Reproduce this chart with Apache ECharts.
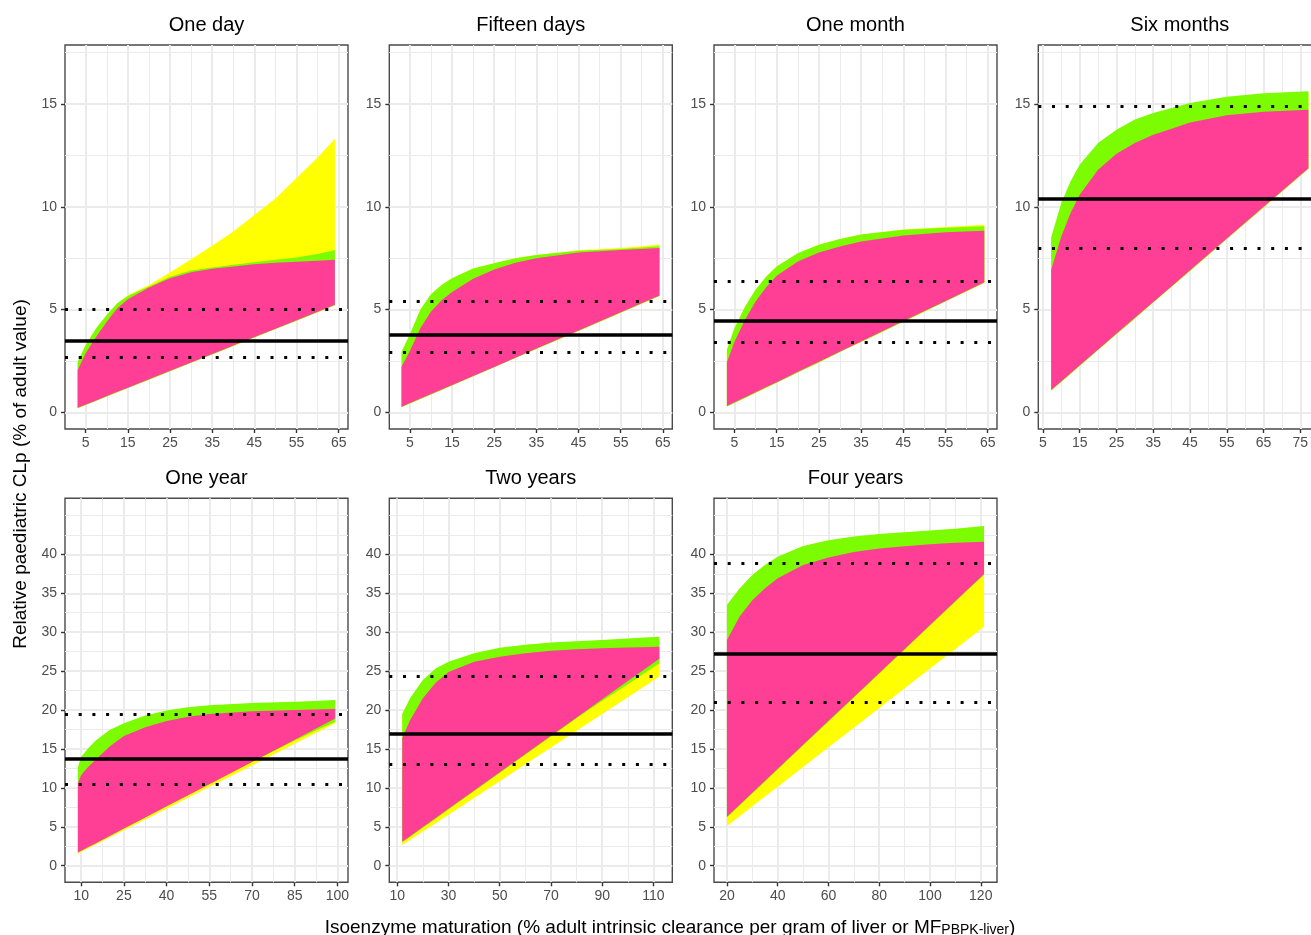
<!DOCTYPE html>
<html>
<head>
<meta charset="utf-8">
<script src="https://cdn.jsdelivr.net/npm/echarts@6/dist/echarts.min.js"></script>
<style>
  html, body { margin: 0; padding: 0; background: #fff; }
  #chart { width: 1311px; height: 935px; }
</style>
</head>
<body>
<div id="chart"></div>
<script>
// ---- data, one block per panel ----
// each panel: x positions, lower/upper edge of the pink, green and yellow bands,
// and the reference lines [solid, lower dotted, upper dotted]

// One day
const dayX = [3.1, 5, 7.5, 10, 12.5, 15, 20, 25, 30, 35, 40, 45, 50, 55, 60, 64.1]
const dayPinkLow = [0.22, 0.38, 0.58, 0.79, 1.0, 1.2, 1.61, 2.02, 2.43, 2.84, 3.25, 3.66, 4.07, 4.48, 4.89, 5.23]
const dayPinkHigh = [2.06, 2.87, 3.68, 4.41, 5.07, 5.5, 6.07, 6.52, 6.82, 6.98, 7.1, 7.2, 7.28, 7.33, 7.38, 7.42]
const dayGreenLow = [0.2, 0.36, 0.56, 0.77, 0.98, 1.18, 1.59, 2.0, 2.41, 2.82, 3.23, 3.64, 4.05, 4.46, 4.87, 5.21]
const dayGreenHigh = [2.45, 3.28, 4.09, 4.74, 5.31, 5.66, 6.12, 6.6, 6.9, 7.05, 7.18, 7.3, 7.42, 7.53, 7.7, 7.9]
const dayYellowLow = [0.2, 0.36, 0.56, 0.77, 0.98, 1.18, 1.59, 2.0, 2.41, 2.82, 3.23, 3.64, 4.05, 4.46, 4.87, 5.21]
const dayYellowHigh = [2.45, 3.28, 4.09, 4.74, 5.31, 5.7, 6.2, 6.8, 7.45, 8.1, 8.8, 9.6, 10.4, 11.4, 12.4, 13.31]
const dayLines = [3.5, 2.68, 5.0]

// Fifteen days
const fifteenX = [3.0, 5, 7.5, 10, 12.5, 15, 20, 25, 30, 35, 45, 55, 64.2]
const fifteenPinkLow = [0.27, 0.45, 0.67, 0.89, 1.11, 1.33, 1.77, 2.21, 2.66, 3.1, 3.98, 4.87, 5.68]
const fifteenPinkHigh = [2.22, 3.0, 4.1, 4.9, 5.45, 5.85, 6.5, 6.95, 7.28, 7.5, 7.78, 7.9, 7.99]
const fifteenGreenLow = [0.25, 0.43, 0.65, 0.87, 1.09, 1.31, 1.75, 2.19, 2.64, 3.08, 3.96, 4.85, 5.66]
const fifteenGreenHigh = [2.95, 3.8, 5.0, 5.75, 6.2, 6.52, 7.0, 7.25, 7.5, 7.66, 7.86, 7.95, 8.08]
const fifteenYellowLow = [0.25, 0.43, 0.65, 0.87, 1.09, 1.31, 1.75, 2.19, 2.64, 3.08, 3.96, 4.85, 5.66]
const fifteenYellowHigh = [2.95, 3.8, 5.0, 5.75, 6.2, 6.52, 7.0, 7.25, 7.5, 7.66, 7.88, 7.99, 8.15]
const fifteenLines = [3.77, 2.9, 5.39]

// One month
const monthX = [3.2, 5, 7.5, 10, 12.5, 15, 20, 25, 30, 35, 45, 55, 64.2]
const monthPinkLow = [0.31, 0.49, 0.73, 0.98, 1.23, 1.47, 1.97, 2.46, 2.96, 3.45, 4.44, 5.42, 6.33]
const monthPinkHigh = [2.42, 3.44, 4.5, 5.39, 6.09, 6.64, 7.34, 7.78, 8.07, 8.31, 8.6, 8.76, 8.84]
const monthGreenLow = [0.28, 0.46, 0.7, 0.95, 1.2, 1.44, 1.94, 2.43, 2.93, 3.42, 4.41, 5.39, 6.3]
const monthGreenHigh = [3.05, 4.09, 5.14, 5.96, 6.6, 7.09, 7.74, 8.15, 8.43, 8.65, 8.88, 8.98, 9.05]
const monthYellowLow = [0.28, 0.46, 0.7, 0.95, 1.2, 1.44, 1.94, 2.43, 2.93, 3.42, 4.41, 5.39, 6.3]
const monthYellowHigh = [3.05, 4.09, 5.14, 5.96, 6.6, 7.09, 7.74, 8.15, 8.43, 8.65, 8.9, 9.02, 9.13]
const monthLines = [4.46, 3.42, 6.4]

// Six months
const sixX = [7.25, 10, 12.5, 15, 20, 25, 30, 35, 40, 45, 55, 65, 77.2]
const sixPinkLow = [1.09, 1.51, 1.9, 2.29, 3.06, 3.83, 4.6, 5.37, 6.14, 6.91, 8.46, 10.0, 11.88]
const sixPinkHigh = [6.93, 8.55, 9.69, 10.58, 11.8, 12.58, 13.1, 13.5, 13.8, 14.1, 14.45, 14.62, 14.72]
const sixGreenLow = [1.06, 1.48, 1.87, 2.26, 3.03, 3.8, 4.57, 5.34, 6.11, 6.88, 8.43, 9.97, 11.85]
const sixGreenHigh = [8.5, 10.18, 11.23, 12.05, 13.1, 13.75, 14.24, 14.56, 14.81, 15.05, 15.35, 15.52, 15.62]
const sixYellowLow = [1.06, 1.48, 1.87, 2.26, 3.03, 3.8, 4.57, 5.34, 6.11, 6.88, 8.43, 9.97, 11.85]
const sixYellowHigh = [8.45, 10.13, 11.18, 12.0, 13.05, 13.7, 14.2, 14.52, 14.77, 15.0, 15.3, 15.47, 15.57]
const sixLines = [10.4, 8.0, 14.88]

// One year
const yearX = [8.84, 10, 12.5, 15, 20, 25, 32.5, 40, 47.5, 55, 70, 85, 92, 99.2]
const yearPinkLow = [1.7, 1.92, 2.4, 2.87, 3.82, 4.77, 6.2, 7.63, 9.05, 10.48, 13.34, 16.19, 17.52, 18.9]
const yearPinkHigh = [10.58, 11.66, 12.7, 13.58, 15.3, 16.66, 17.8, 18.6, 19.15, 19.5, 19.85, 20.0, 20.08, 20.13]
const yearGreenLow = [1.68, 1.9, 2.38, 2.85, 3.8, 4.75, 6.18, 7.61, 9.03, 10.46, 13.32, 16.1, 17.3, 18.5]
const yearGreenHigh = [12.6, 14.0, 15.08, 16.06, 17.44, 18.3, 19.3, 19.95, 20.35, 20.6, 20.9, 21.05, 21.15, 21.29]
const yearYellowLow = [1.55, 1.77, 2.23, 2.69, 3.62, 4.55, 5.94, 7.33, 8.72, 10.11, 12.89, 15.67, 16.97, 18.3]
const yearYellowHigh = [12.55, 13.95, 15.03, 16.0, 17.4, 18.25, 19.25, 19.9, 20.3, 20.55, 20.85, 21.0, 21.1, 21.24]
const yearLines = [13.7, 10.5, 19.5]

// Two years
const twoX = [11.95, 15, 20, 25, 30, 40, 50, 60, 70, 80, 90, 100, 105, 112.3]
const twoPinkLow = [3.08, 3.8, 4.97, 6.14, 7.31, 9.66, 12.0, 14.34, 16.69, 19.03, 21.37, 23.72, 24.9, 26.6]
const twoPinkHigh = [16.37, 18.7, 21.5, 23.5, 24.9, 26.2, 26.86, 27.3, 27.6, 27.8, 27.93, 28.03, 28.08, 28.14]
const twoGreenLow = [3.0, 3.7, 4.87, 6.04, 7.21, 9.56, 11.9, 14.24, 16.59, 18.93, 21.2, 23.3, 24.4, 26.0]
const twoGreenHigh = [19.49, 21.5, 23.86, 25.35, 26.2, 27.3, 28.0, 28.4, 28.66, 28.85, 29.0, 29.2, 29.3, 29.43]
const twoYellowLow = [2.66, 3.32, 4.4, 5.47, 6.55, 8.71, 10.86, 13.02, 15.18, 17.33, 19.49, 21.64, 22.72, 24.3]
const twoYellowHigh = [19.44, 21.45, 23.8, 25.3, 26.15, 27.25, 27.95, 28.35, 28.6, 28.8, 28.95, 29.15, 29.25, 29.38]
const twoLines = [17.0, 13.07, 24.3]

// Four years
const fourX = [20, 25, 30, 35, 40, 50, 60, 70, 80, 90, 100, 110, 121.3]
const fourPinkLow = [6.3, 7.84, 9.38, 10.92, 12.46, 15.53, 18.61, 21.69, 24.77, 27.85, 30.92, 34.0, 37.48]
const fourPinkHigh = [29.0, 32.0, 34.1, 35.64, 36.92, 38.64, 39.6, 40.3, 40.75, 41.05, 41.3, 41.48, 41.63]
const fourGreenLow = [6.2, 7.74, 9.28, 10.82, 12.36, 15.43, 18.51, 21.59, 24.67, 27.75, 30.82, 33.9, 37.38]
const fourGreenHigh = [33.5, 35.6, 37.35, 38.64, 39.7, 41.08, 41.8, 42.3, 42.6, 42.85, 43.05, 43.3, 43.65]
const fourYellowLow = [5.1, 6.36, 7.63, 8.89, 10.16, 12.68, 15.21, 17.74, 20.27, 22.8, 25.32, 27.85, 30.71]
const fourYellowHigh = [33.45, 35.55, 37.3, 38.6, 39.65, 41.03, 41.75, 42.25, 42.55, 42.8, 43.0, 43.25, 43.6]
const fourLines = [27.25, 20.94, 38.9]

// ---- tick labels ----
const topYTicks = [0, 5, 10, 15]
const topYMinor = [2.5, 7.5, 12.5, 17.5]
const bottomYTicks = [0, 5, 10, 15, 20, 25, 30, 35, 40]
const bottomYMinor = [2.5, 7.5, 12.5, 17.5, 22.5, 27.5, 32.5, 37.5, 42.5, 45]
const earlyXTicks = [5, 15, 25, 35, 45, 55, 65]
const earlyXMinor = [10, 20, 30, 40, 50, 60]
const sixXTicks = [5, 15, 25, 35, 45, 55, 65, 75]
const sixXMinor = [10, 20, 30, 40, 50, 60, 70, 80]
const yearXTicks = [10, 25, 40, 55, 70, 85, 100]
const yearXMinor = [17.5, 32.5, 47.5, 62.5, 77.5, 92.5]
const twoXTicks = [10, 30, 50, 70, 90, 110]
const twoXMinor = [20, 40, 60, 80, 100]
const fourXTicks = [20, 40, 60, 80, 100, 120]
const fourXMinor = [30, 50, 70, 90, 110]

const panels = [
  { title: 'One day', x: dayX, pink: [dayPinkLow, dayPinkHigh], green: [dayGreenLow, dayGreenHigh], yellow: [dayYellowLow, dayYellowHigh], lines: dayLines,
    xRange: [0.1, 67.2], xTicks: earlyXTicks, xMinor: earlyXMinor, row: 0, col: 0 },
  { title: 'Fifteen days', x: fifteenX, pink: [fifteenPinkLow, fifteenPinkHigh], green: [fifteenGreenLow, fifteenGreenHigh], yellow: [fifteenYellowLow, fifteenYellowHigh], lines: fifteenLines,
    xRange: [0.1, 67.25], xTicks: earlyXTicks, xMinor: earlyXMinor, row: 0, col: 1 },
  { title: 'One month', x: monthX, pink: [monthPinkLow, monthPinkHigh], green: [monthGreenLow, monthGreenHigh], yellow: [monthYellowLow, monthYellowHigh], lines: monthLines,
    xRange: [0.15, 67.2], xTicks: earlyXTicks, xMinor: earlyXMinor, row: 0, col: 2 },
  { title: 'Six months', x: sixX, pink: [sixPinkLow, sixPinkHigh], green: [sixGreenLow, sixGreenHigh], yellow: [sixYellowLow, sixYellowHigh], lines: sixLines,
    xRange: [3.75, 80.7], xTicks: sixXTicks, xMinor: sixXMinor, row: 0, col: 3 },
  { title: 'One year', x: yearX, pink: [yearPinkLow, yearPinkHigh], green: [yearGreenLow, yearGreenHigh], yellow: [yearYellowLow, yearYellowHigh], lines: yearLines,
    xRange: [4.32, 103.7], xTicks: yearXTicks, xMinor: yearXMinor, row: 1, col: 0 },
  { title: 'Two years', x: twoX, pink: [twoPinkLow, twoPinkHigh], green: [twoGreenLow, twoGreenHigh], yellow: [twoYellowLow, twoYellowHigh], lines: twoLines,
    xRange: [6.9, 117.35], xTicks: twoXTicks, xMinor: twoXMinor, row: 1, col: 1 },
  { title: 'Four years', x: fourX, pink: [fourPinkLow, fourPinkHigh], green: [fourGreenLow, fourGreenHigh], yellow: [fourYellowLow, fourYellowHigh], lines: fourLines,
    xRange: [14.9, 126.4], xTicks: fourXTicks, xMinor: fourXMinor, row: 1, col: 2 }
]

const rowY = [
  { range: [-0.81, 17.87], ticks: topYTicks, minor: topYMinor },
  { range: [-2.13, 47.2], ticks: bottomYTicks, minor: bottomYMinor }
]

const FONT = '"Liberation Sans", Arial, Helvetica, sans-serif'
const COLORS = { yellow: '#FFFF00', green: '#7CFC00', pink: '#FF3E96' }
const colLeft = [65, 389.3, 714, 1038.3]
const rowTop = [45, 498.3]
const PW = 283
const PH = 384

// one polygon per band, built from the series' own rows through api.coord
function bandRenderer (color) {
  return function (params, api) {
    if (params.dataIndexInside !== 0) return null
    const n = params.dataInsideLength
    const top = []
    const bottom = []
    for (let k = 0; k < n; k++) {
      top.push(api.coord([api.value(0, k), api.value(2, k)]))
      bottom.push(api.coord([api.value(0, k), api.value(1, k)]))
    }
    return {
      type: 'polygon',
      shape: { points: top.concat(bottom.reverse()) },
      style: { fill: color },
      silent: true
    }
  }
}

const grids = []
const xAxes = []
const yAxes = []
const series = []
const graphics = []

panels.forEach((p, i) => {
  const ry = rowY[p.row]
  grids.push({
    left: colLeft[p.col], top: rowTop[p.row], width: PW, height: PH,
    show: true, borderColor: '#4a4a4a', borderWidth: 1.4, backgroundColor: 'transparent',
    containLabel: false, outerBoundsMode: 'none'
  })
  // major x axis
  xAxes.push({
    gridIndex: i, type: 'value', position: 'bottom', min: p.xRange[0], max: p.xRange[1],
    axisLine: { show: false, onZero: false },
    axisTick: { show: true, length: 4, customValues: p.xTicks, lineStyle: { color: '#333', width: 1.4 } },
    axisLabel: { customValues: p.xTicks, color: '#4D4D4D', fontSize: 14, fontFamily: FONT, margin: 7 },
    splitLine: { show: true, lineStyle: { color: '#EBEBEB', width: 2 } }
  })
  // minor x grid
  xAxes.push({
    gridIndex: i, type: 'value', position: 'bottom', min: p.xRange[0], max: p.xRange[1],
    axisLine: { show: false, onZero: false },
    axisTick: { show: false, customValues: p.xMinor },
    axisLabel: { show: false },
    splitLine: { show: true, lineStyle: { color: '#EBEBEB', width: 1 } }
  })
  yAxes.push({
    gridIndex: i, type: 'value', position: 'left', min: ry.range[0], max: ry.range[1],
    axisLine: { show: false, onZero: false },
    axisTick: { show: true, length: 4, customValues: ry.ticks, lineStyle: { color: '#333', width: 1.4 } },
    axisLabel: { customValues: ry.ticks, color: '#4D4D4D', fontSize: 14, fontFamily: FONT, margin: 8 },
    splitLine: { show: true, lineStyle: { color: '#EBEBEB', width: 2 } }
  })
  yAxes.push({
    gridIndex: i, type: 'value', position: 'right', min: ry.range[0], max: ry.range[1],
    axisLine: { show: false, onZero: false },
    axisTick: { show: false, customValues: ry.minor },
    axisLabel: { show: false },
    splitLine: { show: true, lineStyle: { color: '#EBEBEB', width: 1 } }
  })

  const ax = i * 2
  ;[['yellow', 2], ['green', 3], ['pink', 4]].forEach(([key, z]) => {
    const lo = p[key][0]
    const hi = p[key][1]
    series.push({
      type: 'custom',
      xAxisIndex: ax, yAxisIndex: ax, z: z,
      silent: true, animation: false,
      encode: { x: 0, y: [1, 2] },
      data: p.x.map((v, k) => [v, lo[k], hi[k]]),
      renderItem: bandRenderer(COLORS[key])
    })
  })

  // reference lines: solid mean, dotted bounds
  const dotted = { type: [3, 10.7], width: 3.2, color: '#000', cap: 'butt' }
  series.push({
    type: 'line',
    xAxisIndex: ax, yAxisIndex: ax, z: 6,
    silent: true, animation: false, showSymbol: false,
    lineStyle: { opacity: 0, width: 0 },
    data: p.x.map((v, k) => [v, p.pink[1][k]]),
    markLine: {
      silent: true, animation: false, symbol: ['none', 'none'], label: { show: false },
      data: [
        { yAxis: p.lines[0], lineStyle: { type: 'solid', width: 3.5, color: '#000' } },
        { yAxis: p.lines[1], lineStyle: dotted },
        { yAxis: p.lines[2], lineStyle: dotted }
      ]
    }
  })

  graphics.push({
    type: 'text',
    x: colLeft[p.col] + PW / 2,
    y: p.row === 0 ? 25 : 478,
    style: {
      text: p.title, font: '20px ' + FONT, fill: '#000',
      align: 'center', verticalAlign: 'middle', textAlign: 'center', textVerticalAlign: 'middle'
    }
  })
})

graphics.push({
  type: 'text', x: 21, y: 474, rotation: Math.PI / 2,
  style: {
    text: 'Relative paediatric CLp (% of adult value)', font: '19px ' + FONT, fill: '#000',
    align: 'center', verticalAlign: 'middle', textAlign: 'center', textVerticalAlign: 'middle'
  }
})
graphics.push({
  type: 'text', x: 670, y: 924,
  style: {
    text: '{a|Isoenzyme maturation (% adult intrinsic clearance per gram of liver or MF}{b|PBPK-liver}{a|)}',
    fill: '#000',
    align: 'center', verticalAlign: 'middle', textAlign: 'center', textVerticalAlign: 'middle',
    rich: {
      a: { fontSize: 19, fontFamily: FONT, lineHeight: 26, verticalAlign: 'bottom', fill: '#000' },
      b: { fontSize: 14, fontFamily: FONT, lineHeight: 16, verticalAlign: 'bottom', fill: '#000' }
    }
  }
})

const chart = echarts.init(document.getElementById('chart'), null, { renderer: 'canvas' })
chart.setOption({
  animation: false,
  backgroundColor: '#fff',
  grid: grids,
  xAxis: xAxes,
  yAxis: yAxes,
  series: series,
  graphic: { elements: graphics }
})
window.addEventListener('resize', () => chart.resize())
</script>
</body>
</html>
